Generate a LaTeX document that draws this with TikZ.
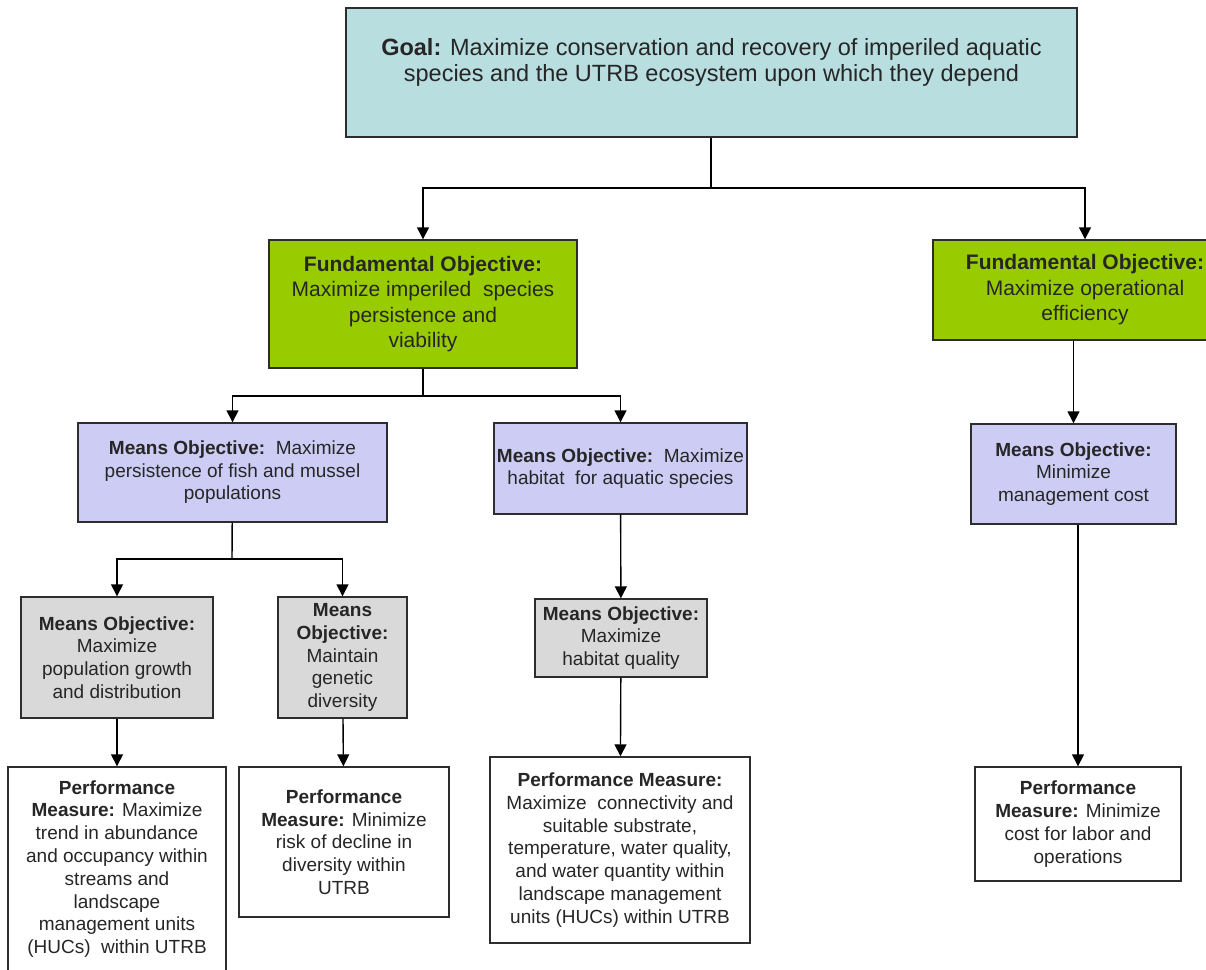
\documentclass[tikz,border=0pt]{standalone}
\usepackage{fontspec}
\setmainfont{Liberation Sans}
\usetikzlibrary{arrows.meta}
\definecolor{goalfill}{RGB}{185,222,224}
\definecolor{fundfill}{RGB}{153,204,0}
\definecolor{meansfill}{RGB}{204,204,245}
\definecolor{subfill}{RGB}{217,217,217}
\definecolor{edgegray}{RGB}{45,45,45}
\definecolor{textgray}{RGB}{38,38,38}

\begin{document}
\begin{tikzpicture}[x=1pt, y=-1pt,
box/.style={draw=edgegray, line width=1.4pt, align=center, inner sep=0pt, text=textgray},
goalbox/.style={box, fill=goalfill, font=\fontsize{23.5}{26}\selectfont},
fundbox/.style={box, fill=fundfill, font=\fontsize{21}{25.5}\selectfont},
meansbox/.style={box, fill=meansfill, font=\fontsize{19}{22.5}\selectfont},
subbox/.style={box, fill=subfill, font=\fontsize{19}{22.7}\selectfont},
perfbox/.style={box, fill=white, font=\fontsize{19}{22.8}\selectfont},
link/.style={draw=black, line width=1.4pt},
arr/.style={link, -{Triangle[width=12pt,length=12pt]}}]
\useasboundingbox (0,0) rectangle (1206,969);
\node[goalbox, minimum width=731pt, minimum height=129pt] (goal) at (711.5,72.5)
{\textbf{Goal:} Maximize conservation and recovery of imperiled aquatic\\ species and the UTRB ecosystem upon which they depend\\ \mbox{}};
\node[fundbox, minimum width=308pt, minimum height=128pt] (fundA) at (423,304)
{\textbf{Fundamental Objective:}\\ Maximize imperiled\ \ species\\ persistence and\\ viability};
\node[fundbox, minimum width=304pt, minimum height=100pt] (fundB) at (1085,290)
{\textbf{Fundamental Objective:}\\ Maximize operational\\ efficiency};
\node[meansbox, minimum width=309pt, minimum height=99pt] (meansA) at (232.5,472.5)
{\textbf{Means Objective:}\ \ Maximize\\ persistence of fish and mussel\\ populations};
\node[meansbox, minimum width=253pt, minimum height=91pt] (meansB) at (620.5,468.5)
{\textbf{Means Objective:}\ \ Maximize\\ habitat\ \ for aquatic species};
\node[meansbox, minimum width=205pt, minimum height=100pt] (meansC) at (1073.5,474)
{\textbf{Means Objective:}\\ Minimize\\ management cost};
\node[subbox, minimum width=192pt, minimum height=121pt] (subA) at (117,657.5)
{\textbf{Means Objective:}\\ Maximize\\ population growth\\ and distribution};
\node[subbox, minimum width=129pt, minimum height=121pt] (subB) at (342.5,657.5)
{\textbf{Means}\\ \textbf{Objective:}\\ Maintain\\ genetic\\ diversity};
\node[subbox, minimum width=172pt, minimum height=78pt] (subC) at (621,638)
{\textbf{Means Objective:}\\ Maximize\\ habitat quality};
\node[perfbox, minimum width=218pt, minimum height=204pt] (perfA) at (117,869)
{\textbf{Performance}\\ \textbf{Measure:} Maximize\\ trend in abundance\\ and occupancy within\\ streams and\\ landscape\\ management units\\ (HUCs)\ \ within UTRB};
\node[perfbox, minimum width=210pt, minimum height=150pt] (perfB) at (344,842)
{\textbf{Performance}\\ \textbf{Measure:} Minimize\\ risk of decline in\\ diversity within\\ UTRB};
\node[perfbox, minimum width=260pt, minimum height=186pt] (perfC) at (620,850)
{\textbf{Performance Measure:}\\ Maximize\ \ connectivity and\\ suitable substrate,\\ temperature, water quality,\\ and water quantity within\\ landscape management\\ units (HUCs) within UTRB};
\node[perfbox, minimum width=206pt, minimum height=114pt] (perfD) at (1078,824)
{\textbf{Performance}\\ \textbf{Measure:} Minimize\\ cost for labor and\\ operations};
\coordinate (gj) at (711,188);
\coordinate (fj) at (423,396);
\coordinate (mj) at (232,559);
\draw[link] (goal.south -| gj) -- (gj);
\draw[arr] (gj) -| (fundA);
\draw[arr] (gj) -| (fundB);
\draw[link] (fundA) -- (fj);
\draw[arr] (fj) -| (meansA);
\draw[arr] (fj) -| (meansB);
\draw[link] (meansA) -- (mj);
\draw[arr] (mj) -| (subA);
\draw[arr] (mj) -| (subB);
\draw[arr] (subA) -- (perfA);
\draw[arr] (subB) -- (perfB);
\draw[arr] (meansB) -- (subC);
\draw[arr] (subC) -- (perfC);
\draw[arr] (fundB.south -| meansC) -- (meansC);
\draw[arr] (meansC.south -| perfD) -- (perfD);
\end{tikzpicture}
\end{document}
